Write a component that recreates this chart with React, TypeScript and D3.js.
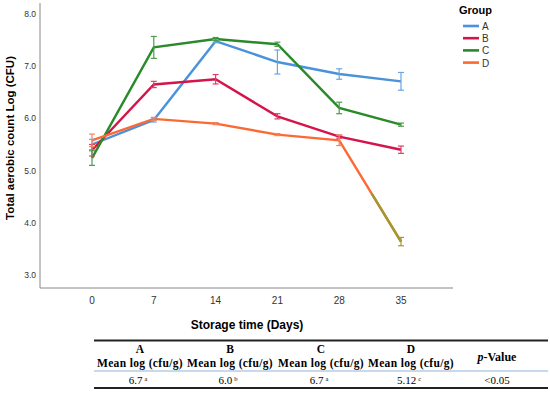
import React from 'react';
import * as d3 from 'd3';

const days = [0, 7, 14, 21, 28, 35];
const groups = ['A', 'B', 'C', 'D'];
const colors = ['#4a92db', '#d4144a', '#2a8a2a', '#fb6a35'];
const errColors = ['#6aa6e0', '#d8446a', '#4f9a4f', '#f5845e'];

// mean values
const meanA = [5.5, 5.97, 7.48, 7.08, 6.85, 6.71];
const meanB = [5.39, 6.65, 6.75, 6.04, 5.65, 5.4];
const meanC = [5.24, 7.36, 7.52, 7.42, 6.2, 5.88];
const meanD = [5.58, 5.99, 5.9, 5.69, 5.58, 3.64];
// half width of the error bars
const errA = [0.1, 0.04, 0.03, 0.23, 0.1, 0.17];
const errB = [0.11, 0.06, 0.09, 0.05, 0.03, 0.07];
const errC = [0.14, 0.21, 0.03, 0.04, 0.11, 0.03];
const errD = [0.12, 0.03, 0.02, 0.02, 0.1, 0.08];

const yTicks = [3, 4, 5, 6, 7, 8];

const tableHeads = ['A', 'B', 'C', 'D'];
const tableValues = ['6.7', '6.0', '6.7', '5.12'];
const tableSup = ['a', 'b', 'a', 'c'];
const pValue = '<0.05';

export default function App() {
  const means = [meanA, meanB, meanC, meanD];
  const errs = [errA, errB, errC, errD];

  const x = d3.scaleLinear().domain([0, 35]).range([92, 401]);
  const y = d3.scaleLinear().domain([3, 8]).range([275, 14]);

  const line = d3.line<number>()
    .x((_, i) => x(days[i]))
    .y(d => y(d));

  const colX = [140, 230, 321, 411];
  const sans = 'Arial, "Liberation Sans", sans-serif';
  const serif = '"Liberation Serif", "DejaVu Serif", serif';

  return (
    <svg width={550} height={393} style={{ position: 'absolute', left: 0, top: 0 }}>
      <rect width={550} height={393} fill="#fff" />
      {/* axes */}
      <line x1={40} x2={40} y1={3} y2={288} stroke="#888" strokeWidth={1} />
      <line x1={40} x2={453} y1={288} y2={288} stroke="#888" strokeWidth={1} />
      {yTicks.map(t => (
        <text key={t} x={36} y={y(t) + 3} textAnchor="end" fontSize={8.5} fill="#333" fontFamily={sans}>
          {t.toFixed(1)}
        </text>
      ))}
      {days.map(d => (
        <text key={d} x={x(d)} y={304} textAnchor="middle" fontSize={10} fill="#333" fontFamily={sans}>
          {d}
        </text>
      ))}
      <text x={247} y={329} textAnchor="middle" fontSize={12} fontWeight="bold" fontFamily={sans}>
        Storage time (Days)
      </text>
      <text transform="translate(14,138) rotate(-90)" textAnchor="middle" fontSize={11.5} fontWeight="bold" fontFamily={sans}>
        Total aerobic count Log (CFU)
      </text>

      {/* lines */}
      {means.map((m, g) => (
        <path key={g} d={line(m) || ''} fill="none" stroke={colors[g]} strokeWidth={2.4} />
      ))}
      {/* olive tint on the last segment of D */}
      <clipPath id="tail">
        <rect x={x(28)} y={y(4.55)} width={x(35) - x(28) + 10} height={y(3.3) - y(4.55)} />
      </clipPath>
      <path d={line(meanD) || ''} fill="none" stroke="#a09a2c" strokeWidth={2.4} clipPath="url(#tail)" />

      {/* error bars */}
      {means.map((m, g) =>
        m.map((v, i) => {
          const cx = x(days[i]);
          const y1 = y(v + errs[g][i]);
          const y2 = y(v - errs[g][i]);
          const c = g === 3 && i === 5 ? '#a09a2c' : errColors[g];
          return (
            <g key={g + '-' + i} stroke={c} strokeWidth={1.2}>
              <line x1={cx} x2={cx} y1={y1} y2={y2} />
              <line x1={cx - 3} x2={cx + 3} y1={y1} y2={y1} />
              <line x1={cx - 3} x2={cx + 3} y1={y2} y2={y2} />
            </g>
          );
        })
      )}

      {/* legend */}
      <text x={459} y={14} fontSize={11} fontWeight="bold" fontFamily={sans}>Group</text>
      {groups.map((g, i) => (
        <g key={g}>
          <line x1={463} x2={479} y1={26 + i * 12.2} y2={26 + i * 12.2} stroke={colors[i]} strokeWidth={2.6} />
          <text x={482} y={30 + i * 12.2} fontSize={10} fill="#333" fontFamily={sans}>{g}</text>
        </g>
      ))}

      {/* table */}
      <line x1={94} x2={548} y1={340.5} y2={340.5} stroke="#222" strokeWidth={1.8} />
      <line x1={94} x2={548} y1={371} y2={371} stroke="#8fb4dc" strokeWidth={1} />
      <line x1={94} x2={548} y1={388} y2={388} stroke="#222" strokeWidth={1.8} />
      {tableHeads.map((h, i) => (
        <g key={h} fontFamily={serif} textAnchor="middle">
          <text x={colX[i]} y={353} fontSize={11.5} fontWeight="bold">{h}</text>
          <text x={colX[i]} y={367} fontSize={11.5} fontWeight="bold" letterSpacing={0.35}>Mean log (cfu/g)</text>
          <text x={colX[i] - 2} y={384} fontSize={11}>
            {tableValues[i]}
            <tspan fontSize={6.5} dx={2} dy={-3}>{tableSup[i]}</tspan>
          </text>
        </g>
      ))}
      <text x={497} y={361} textAnchor="middle" fontSize={12} fontWeight="bold" fontFamily={serif}>
        <tspan fontStyle="italic">p</tspan>-Value
      </text>
      <text x={497} y={384} textAnchor="middle" fontSize={11} fontFamily={serif}>{pValue}</text>
    </svg>
  );
}
